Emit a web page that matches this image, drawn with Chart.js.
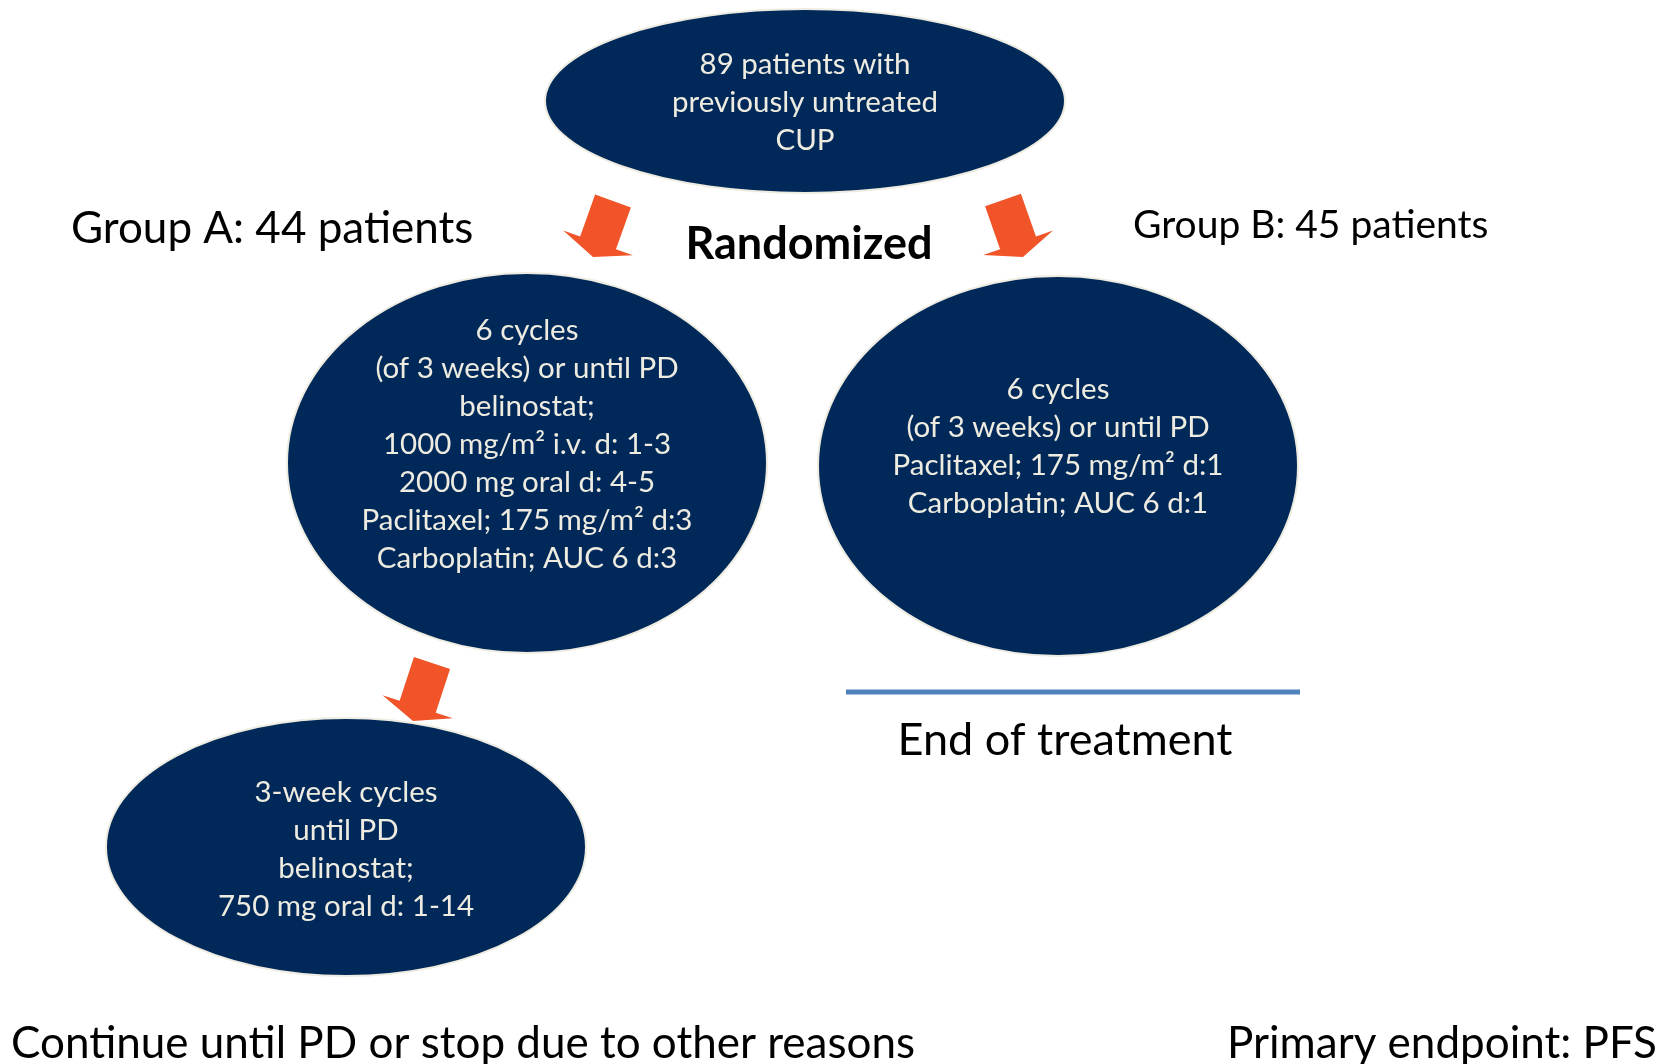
<!DOCTYPE html>
<html>
<head>
<meta charset="utf-8">
<script src="https://cdn.jsdelivr.net/npm/chart.js@4.4.1/dist/chart.umd.min.js"></script>
<style>
  html, body { margin: 0; padding: 0; background: #fff; }
  #wrap { width: 1678px; height: 1064px; position: relative; }
</style>
</head>
<body>
<div id="wrap"><canvas id="flow"></canvas></div>
<script>
// flow nodes (ellipses), in page units (x right, y down)
const nodeX = [805, 527, 1058, 346];
const nodeY = [101, 463, 466, 847];
const nodeRx = [260, 240, 240, 240];
const nodeRy = [92, 190, 190, 129];
const nodeFirstBaseline = [74, 340, 399, 802];
const nodeLines = [
  ['89 patients with', 'previously untreated', 'CUP'],
  ['6 cycles', '(of 3 weeks) or until PD', 'belinostat;', '1000 mg/m\u00B2 i.v. d: 1-3',
   '2000 mg oral d: 4-5', 'Paclitaxel; 175 mg/m\u00B2 d:3', 'Carboplatin; AUC 6 d:3'],
  ['6 cycles', '(of 3 weeks) or until PD', 'Paclitaxel; 175 mg/m\u00B2 d:1', 'Carboplatin; AUC 6 d:1'],
  ['3-week cycles', 'until PD', 'belinostat;', '750 mg oral d: 1-14']
];

// arrows: tail centre -> tip
const arrowTailX = [613, 1003, 432];
const arrowTailY = [201, 200, 663];
const arrowTipX = [593, 1023, 413];
const arrowTipY = [257, 257, 721];

// end of treatment rule
const ruleX = [846, 1300];
const ruleY = [692, 692];

// free labels
const labelText = ['Group A: 44 patients', 'Group B: 45 patients', 'Randomized', 'End of treatment',
  'Continue until PD or stop due to other reasons', 'Primary endpoint: PFS'];
const labelX = [71, 1133, 809, 1065, 11, 1227];
const labelY = [243, 238, 259, 755, 1058, 1058];

const NAVY = '#00295A';
const ORANGE = '#F05428';
const CREAM = '#EEECE1';
const labelFont = ['44px Lato', '39px Lato', 'bold 45px Lato', '45px Lato', '44px Lato', '44px Lato'];
const labelAlign = ['left', 'left', 'center', 'center', 'left', 'left'];

const flowPlugin = {
  id: 'flowShapes',
  beforeDatasetsDraw(chart) {
    const { ctx, scales: { x, y } } = chart;
    ctx.save();
    nodeX.forEach((cx, i) => {
      const px = x.getPixelForValue(cx);
      const py = y.getPixelForValue(nodeY[i]);
      const rx = Math.abs(x.getPixelForValue(cx + nodeRx[i]) - px);
      const ry = Math.abs(y.getPixelForValue(nodeY[i] + nodeRy[i]) - py);
      ctx.beginPath();
      ctx.ellipse(px, py, rx, ry, 0, 0, Math.PI * 2);
      ctx.fillStyle = NAVY;
      ctx.fill();
      ctx.lineWidth = 2;
      ctx.strokeStyle = CREAM;
      ctx.stroke();

      ctx.fillStyle = CREAM;
      ctx.font = '29.5px Lato';
      ctx.textAlign = 'center';
      ctx.textBaseline = 'alphabetic';
      nodeLines[i].forEach((t, k) => {
        ctx.fillText(t, px, y.getPixelForValue(nodeFirstBaseline[i] + k * 38));
      });
    });
    ctx.restore();
  },
  afterDatasetsDraw(chart) {
    const { ctx, scales: { x, y } } = chart;
    ctx.save();
    // block arrows
    arrowTipX.forEach((tx, i) => {
      const ax = x.getPixelForValue(arrowTailX[i]), ay = y.getPixelForValue(arrowTailY[i]);
      const bx = x.getPixelForValue(tx), by = y.getPixelForValue(arrowTipY[i]);
      const len = Math.hypot(bx - ax, by - ay);
      const ux = (bx - ax) / len, uy = (by - ay) / len;
      const nx = -uy, ny = ux;
      const shaft = 19, head = 37, headLen = 15;
      const hx = bx - ux * headLen, hy = by - uy * headLen;
      ctx.beginPath();
      ctx.moveTo(ax + nx * shaft, ay + ny * shaft);
      ctx.lineTo(hx + nx * shaft, hy + ny * shaft);
      ctx.lineTo(hx + nx * head, hy + ny * head);
      ctx.lineTo(bx, by);
      ctx.lineTo(hx - nx * head, hy - ny * head);
      ctx.lineTo(hx - nx * shaft, hy - ny * shaft);
      ctx.lineTo(ax - nx * shaft, ay - ny * shaft);
      ctx.closePath();
      ctx.fillStyle = ORANGE;
      ctx.fill();
    });

    // text labels
    ctx.fillStyle = '#000';
    ctx.textBaseline = 'alphabetic';
    labelText.forEach((t, i) => {
      ctx.font = labelFont[i];
      ctx.textAlign = labelAlign[i];
      ctx.fillText(t, x.getPixelForValue(labelX[i]), y.getPixelForValue(labelY[i]));
    });
    ctx.restore();
  }
};

new Chart(document.getElementById('flow'), {
  type: 'scatter',
  data: {
    datasets: [
      {
        label: 'End of treatment',
        data: ruleX.map((v, i) => ({ x: v, y: ruleY[i] })),
        showLine: true,
        borderColor: '#4F81BD',
        borderWidth: 5,
        pointRadius: 0,
        fill: false
      }
    ]
  },
  options: {
    responsive: true,
    maintainAspectRatio: false,
    animation: false,
    layout: { padding: 0 },
    scales: {
      x: { type: 'linear', min: 0, max: 1678, display: false },
      y: { type: 'linear', min: 0, max: 1064, reverse: true, display: false }
    },
    plugins: {
      legend: { display: false },
      tooltip: { enabled: false }
    }
  },
  plugins: [flowPlugin]
});
</script>
</body>
</html>
